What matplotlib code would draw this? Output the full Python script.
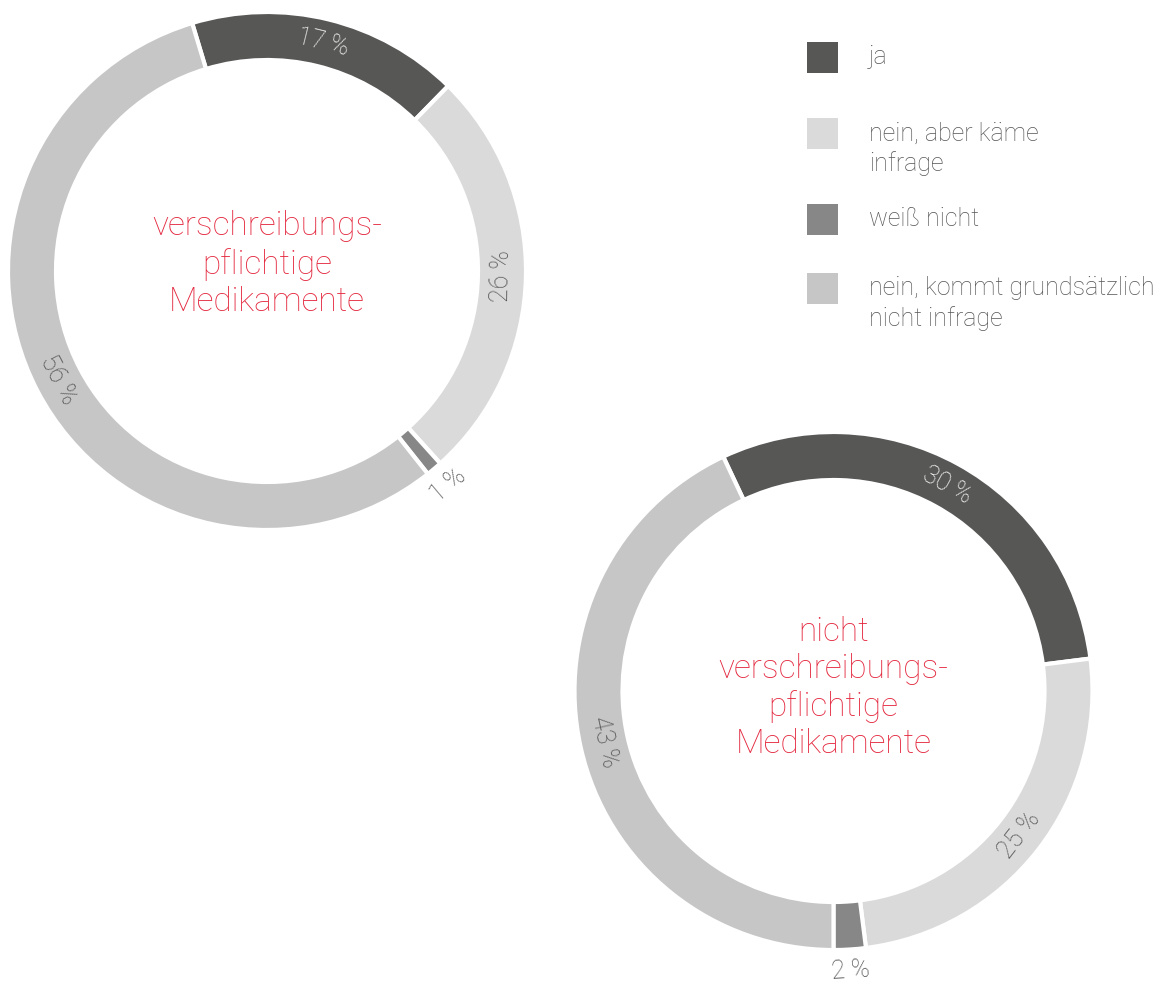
import numpy as np
import matplotlib.pyplot as plt
from matplotlib.patches import Rectangle

plt.rcParams['font.family'] = ['Roboto', 'DejaVu Sans']

categories = ['ja', 'nein, aber käme\ninfrage', 'weiß nicht',
              'nein, kommt grundsätzlich\nnicht infrage']
colors = ['#575756', '#dadada', '#878787', '#c6c6c6']
label_colors = ['white', '#4e4e4e', '#4e4e4e', '#4e4e4e']

titles = ['verschreibungs-\npflichtige\nMedikamente',
          'nicht\nverschreibungs-\npflichtige\nMedikamente']
values_rx = [17, 26, 1, 56]
values_otc = [30, 25, 2, 43]

W, H = 1171, 984


def donut(ax, values, title, cx, cy, start, ty):
    R, w = 259, 48
    ax.pie(values, colors=colors, center=(cx, cy), radius=R, startangle=start,
           counterclock=False, frame=True,
           wedgeprops=dict(width=w, edgecolor='white', linewidth=3))
    total = sum(values)
    a0 = start
    for v, lc in zip(values, label_colors):
        span = v / total * 360
        mid = a0 - span / 2
        a0 -= span
        theta = (90 - mid) % 360  # clockwise from top
        if 90 < theta < 270:
            rot = 180 - theta
        else:
            rot = -theta
        if v < 5:
            r, c = R + 21, '#4e4e4e'
        else:
            r, c = R - w / 2, lc
        x = cx + r * np.cos(np.radians(mid))
        y = cy + r * np.sin(np.radians(mid))
        ax.text(x, y, f'{v} %', rotation=rot, rotation_mode='anchor',
                ha='center', va='center', fontsize=18, color=c,
                fontweight='light')
    ax.text(cx, ty, title, ha='center', va='center', fontsize=24,
            color='#e4283f', fontweight='light', linespacing=1.2)


fig = plt.figure(figsize=(W / 100, H / 100), dpi=100)
ax = fig.add_axes([0, 0, 1, 1])

donut(ax, values_rx, titles[0], 267, H - 271, 106.8, H - 264)
donut(ax, values_otc, titles[1], 833.5, H - 691, 115.2, H - 688)

# legend
leg_y = [57, 133, 219, 288]
for yy, cat, col in zip(leg_y, categories, colors):
    ax.add_patch(Rectangle((807, H - yy - 16), 31, 31, color=col, lw=0))
    off = 15.5 if '\n' in cat else 0
    ax.text(869, H - yy - off, cat, ha='left', va='center', fontsize=18,
            color='#555555', fontweight='light', linespacing=1.27)

ax.set_xlim(0, W)
ax.set_ylim(0, H)
ax.set_aspect('equal')
ax.axis('off')

fig.savefig('out.png', dpi=100)
